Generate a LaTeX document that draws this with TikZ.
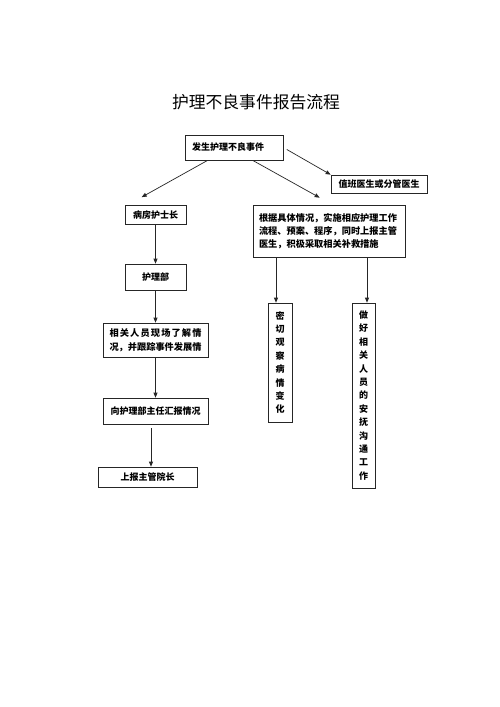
\documentclass[tikz,border=0pt]{standalone}
\usepackage{fontspec}
\setmainfont{Noto Sans CJK SC}
\usetikzlibrary{arrows.meta}
\begin{document}
\begin{tikzpicture}[x=1pt,y=-1pt,
  box/.style={draw=black!85, line width=0.7pt, inner sep=0pt, fill=white,
    font=\fontsize{9}{13}\selectfont\bfseries},
  vbox/.style={box, align=center, font=\fontsize{9}{13.4}\selectfont\bfseries},
  arr/.style={draw=black!85, line width=0.7pt, -{Triangle[length=5pt,width=4pt]}}]
\useasboundingbox (0,0) rectangle (500,707);
\fill[white] (0,0) rectangle (500,707);

\node[font=\fontsize{16.8}{18}\selectfont] (title) at (256,102) {护理不良事件报告流程};

\node[box, minimum width=98pt, minimum height=25pt, text width=84pt, align=left] (fs) at (234,147.5) {发生护理不良事件};
\node[box, minimum width=96pt, minimum height=18pt] (zb) at (379,184) {值班医生或分管医生};
\node[box, minimum width=61pt, minimum height=19pt] (bf) at (155.5,215) {病房护士长};
\node[box, minimum width=152pt, minimum height=52pt, text width=140pt, align=left,
  font=\fontsize{9.2}{13}\selectfont\bfseries] (big) at (329,231)
  {根据具体情况，实施相应护理工作\\流程、预案、程序，同时上报主管\\医生，积极采取相关补救措施};
\node[box, minimum width=61pt, minimum height=26pt] (hl) at (155.5,277) {护理部};
\node[box, minimum width=105pt, minimum height=34pt, align=center,
  font=\fontsize{9.2}{14}\selectfont\bfseries] (xg) at (155.5,340)
  {\hbox to 92pt{相\hfil 关\hfil 人\hfil 员\hfil 现\hfil 场\hfil 了\hfil 解\hfil 情}\\
   \hbox to 92pt{况，并跟踪事件发展情\hfil}};
\node[box, minimum width=105pt, minimum height=26pt] (xz) at (155.5,411) {向护理部主任汇报情况};
\node[box, minimum width=99pt, minimum height=20pt] (sb) at (147.5,477) {上报主管院长};
\node[vbox, minimum width=24pt, minimum height=119pt] (mq) at (280,362.5)
  {密\\切\\观\\察\\病\\情\\变\\化};
\node[vbox, minimum width=23pt, minimum height=185pt] (zh) at (363.5,395.5)
  {做\\好\\相\\关\\人\\员\\的\\安\\抚\\沟\\通\\工\\作};

\coordinate (mqt) at ([xshift=-4pt]mq.north);
\coordinate (zht) at ([xshift=3.5pt]zh.north);

\draw[arr, shorten <=4pt] (fs.east) -- (zb.north west);
\draw[arr] ([xshift=23pt]fs.south west) -- ([xshift=17pt,yshift=8pt]bf.north west);
\draw[arr] ([xshift=68pt]fs.south west) -- ([xshift=67pt,yshift=7pt]big.north west);
\draw[arr] (bf.south) -- (hl.north);
\draw[arr] (hl.south) -- (xg.north);
\draw[arr] (xg.south) -- (xz.north);
\draw[arr, shorten <=4pt] ([xshift=-4.5pt]xz.south) -- ([xshift=3.5pt]sb.north);
\draw[arr] (mqt |- big.south) -- (mqt);
\draw[arr] (zht |- big.south) -- (zht);
\end{tikzpicture}
\end{document}
